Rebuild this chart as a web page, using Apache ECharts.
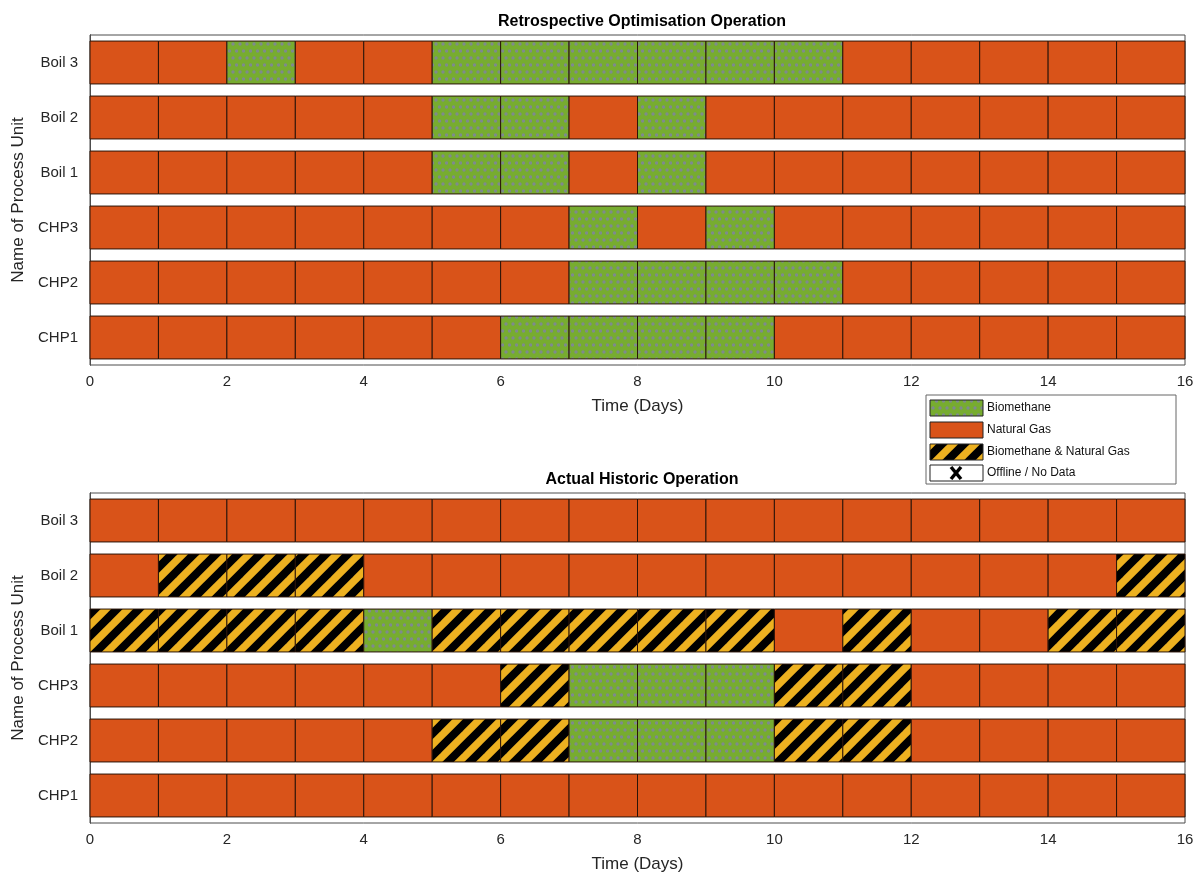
<!DOCTYPE html>
<html>
<head>
<meta charset="utf-8">
<script src="https://cdn.jsdelivr.net/npm/echarts@6/dist/echarts.min.js"></script>
<style>
html,body{margin:0;padding:0;background:#fff;}
#chart{width:1197px;height:874px;}
</style>
</head>
<body>
<div id="chart"></div>
<script>
// ---- data ----
const units = ['CHP1', 'CHP2', 'CHP3', 'Boil 1', 'Boil 2', 'Boil 3'];
const dayStarts = [0,1,2,3,4,5,6,7,8,9,10,11,12,13,14,15];
const xTicks = [0,2,4,6,8,10,12,14,16];
// N = Natural Gas, G = Biomethane, S = Biomethane & Natural Gas
const optCHP1  = ['N','N','N','N','N','N','G','G','G','G','N','N','N','N','N','N'];
const optCHP2  = ['N','N','N','N','N','N','N','G','G','G','G','N','N','N','N','N'];
const optCHP3  = ['N','N','N','N','N','N','N','G','N','G','N','N','N','N','N','N'];
const optBoil1 = ['N','N','N','N','N','G','G','N','G','N','N','N','N','N','N','N'];
const optBoil2 = ['N','N','N','N','N','G','G','N','G','N','N','N','N','N','N','N'];
const optBoil3 = ['N','N','G','N','N','G','G','G','G','G','G','N','N','N','N','N'];

const actCHP1  = ['N','N','N','N','N','N','N','N','N','N','N','N','N','N','N','N'];
const actCHP2  = ['N','N','N','N','N','S','S','G','G','G','S','S','N','N','N','N'];
const actCHP3  = ['N','N','N','N','N','N','S','G','G','G','S','S','N','N','N','N'];
const actBoil1 = ['S','S','S','S','G','S','S','S','S','S','N','S','N','N','S','S'];
const actBoil2 = ['N','S','S','S','N','N','N','N','N','N','N','N','N','N','N','S'];
const actBoil3 = ['N','N','N','N','N','N','N','N','N','N','N','N','N','N','N','N'];

const legendNames = ['Biomethane', 'Natural Gas', 'Biomethane & Natural Gas', 'Offline / No Data'];

// ---- patterns ----
const ORANGE = '#D95319', GREEN = '#77AC30', YELLOW = '#EDB120';
function dotCanvas() {
  const W = 14, H = 14;
  const c = document.createElement('canvas'); c.width = W; c.height = H;
  const x = c.getContext('2d');
  x.fillStyle = GREEN; x.fillRect(0,0,W,H);
  x.fillStyle = '#7e8a8e';
  [[2,2],[9,2],[5.5,9],[12.5,9]].forEach(p => { x.beginPath(); x.arc(p[0], p[1], 1.7, 0, Math.PI*2); x.fill(); });
  return c;
}
function stripeCanvas() {
  const P = 22;
  const c = document.createElement('canvas'); c.width = P; c.height = P;
  const x = c.getContext('2d');
  x.fillStyle = YELLOW; x.fillRect(0,0,P,P);
  x.strokeStyle = '#000'; x.lineWidth = 8; x.lineCap = 'butt';
  [-P, 0, P].forEach(x0 => { x.beginPath(); x.moveTo(x0 - P, 2 * P); x.lineTo(x0 + 2 * P, -P); x.stroke(); });
  return c;
}
const dotImg = dotCanvas(), stripeImg = stripeCanvas();
const fills = {
  N: ORANGE,
  G: {image: dotImg, repeat: 'repeat'},
  S: {image: stripeImg, repeat: 'repeat'}
};
const codeOf = {N: 0, G: 1, S: 2};
const fillByCode = [fills.N, fills.G, fills.S];

function buildData(rows) {
  const out = [];
  rows.forEach((row, ci) => row.forEach((s, di) => out.push([dayStarts[di], ci, codeOf[s]])));
  return out;
}
const optData = buildData([optCHP1, optCHP2, optCHP3, optBoil1, optBoil2, optBoil3]);
const actData = buildData([actCHP1, actCHP2, actCHP3, actBoil1, actBoil2, actBoil3]);

function renderItem(params, api) {
  const day = api.value(0), cat = api.value(1), code = api.value(2);
  const a = api.coord([day, cat]);
  const b = api.coord([day + 1, cat]);
  const h = api.size([0, 1])[1] * 0.78;
  return {
    type: 'rect',
    shape: {x: a[0], y: a[1] - h / 2, width: b[0] - a[0], height: h},
    style: {fill: fillByCode[code], stroke: '#2b1408', lineWidth: 1}
  };
}

const FONT = 'Liberation Sans, Arial, Helvetica, sans-serif';
const AX = '#4d4d4d';
const grids = [
  {left: 90, right: 12, top: 35, height: 330, show: true, borderColor: AX, borderWidth: 1},
  {left: 90, right: 12, top: 493, height: 330, show: true, borderColor: AX, borderWidth: 1}
];
function xAxes(gi) {
  return [
    {type: 'value', gridIndex: gi, min: 0, max: 16, interval: 2, position: 'bottom',
     name: 'Time (Days)', nameLocation: 'middle', nameGap: 33,
     nameTextStyle: {fontFamily: FONT, fontSize: 17, color: '#262626'},
     axisLine: {lineStyle: {color: AX}}, axisTick: {inside: true, length: 7, lineStyle: {color: AX}},
     axisLabel: {fontFamily: FONT, fontSize: 15, color: '#262626', margin: 9,
       formatter: v => xTicks.includes(v) ? String(v) : ''},
     splitLine: {show: false}},
    {type: 'value', gridIndex: gi, min: 0, max: 16, interval: 2, position: 'top',
     axisLine: {lineStyle: {color: AX}}, axisTick: {inside: true, length: 7, lineStyle: {color: AX}},
     axisLabel: {show: false}, splitLine: {show: false}}
  ];
}
function yAxes(gi) {
  return [
    {type: 'category', gridIndex: gi, data: units, position: 'left',
     name: 'Name of Process Unit', nameLocation: 'middle', nameGap: 59, nameRotate: 90,
     nameTextStyle: {fontFamily: FONT, fontSize: 17, color: '#262626'},
     axisLine: {lineStyle: {color: AX}},
     axisTick: {inside: true, length: 7, alignWithLabel: true, lineStyle: {color: AX}},
     axisLabel: {fontFamily: FONT, fontSize: 15, color: '#262626', margin: 12},
     splitLine: {show: false}},
    {type: 'category', gridIndex: gi, data: units, position: 'right',
     axisLine: {lineStyle: {color: AX}},
     axisTick: {inside: true, length: 7, alignWithLabel: true, lineStyle: {color: AX}},
     axisLabel: {show: false}, splitLine: {show: false}}
  ];
}

// legend drawn as graphic (swatches use same fills)
const LX = 926, LY = 395, LW = 250, LH = 89;
const rowsY = [408, 430, 452, 473];
const legendFills = [fills.G, fills.N, fills.S, '#fff'];
const legendGraphic = [
  {type: 'rect', shape: {x: LX, y: LY, width: LW, height: LH}, style: {fill: '#fff', stroke: '#666', lineWidth: 1}, z: 10}
];
legendNames.forEach((n, i) => {
  legendGraphic.push({type: 'rect', shape: {x: 930, y: rowsY[i] - 8, width: 53, height: 16},
    style: {fill: legendFills[i], stroke: '#222', lineWidth: 1}, z: 11});
  legendGraphic.push({type: 'text', x: 987, y: rowsY[i], style: {text: n, fill: '#111',
    font: '12px ' + FONT, textVerticalAlign: 'middle', verticalAlign: 'middle'}, z: 11});
});
const cx = 956, cy = rowsY[3];
legendGraphic.push({type: 'line', shape: {x1: cx - 5, y1: cy - 6, x2: cx + 5, y2: cy + 6}, style: {stroke: '#000', lineWidth: 3.5}, z: 12});
legendGraphic.push({type: 'line', shape: {x1: cx + 5, y1: cy - 6, x2: cx - 5, y2: cy + 6}, style: {stroke: '#000', lineWidth: 3.5}, z: 12});

const chart = echarts.init(document.getElementById('chart'), null, {renderer: 'canvas'});
chart.setOption({
  backgroundColor: '#fff',
  animation: false,
  title: [
    {text: 'Retrospective Optimisation Operation', left: 637, top: 9, textAlign: 'center',
     textStyle: {fontFamily: FONT, fontSize: 16, fontWeight: 'bold', color: '#000'}},
    {text: 'Actual Historic Operation', left: 637, top: 467, textAlign: 'center',
     textStyle: {fontFamily: FONT, fontSize: 16, fontWeight: 'bold', color: '#000'}}
  ],
  grid: grids,
  xAxis: xAxes(0).concat(xAxes(1)),
  yAxis: yAxes(0).concat(yAxes(1)),
  series: [
    {type: 'custom', name: 'Retrospective', xAxisIndex: 0, yAxisIndex: 0, data: optData,
     encode: {x: 0, y: 1}, renderItem: renderItem, z: 2},
    {type: 'custom', name: 'Actual', xAxisIndex: 2, yAxisIndex: 2, data: actData,
     encode: {x: 0, y: 1}, renderItem: renderItem, z: 2}
  ],
  graphic: legendGraphic
});
</script>
</body>
</html>
